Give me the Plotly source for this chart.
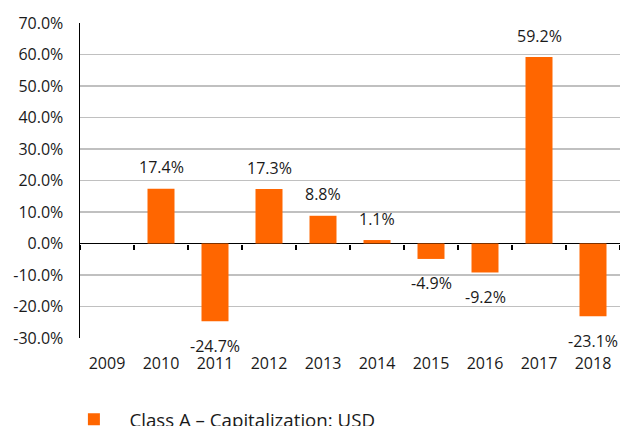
import plotly.graph_objects as go

years = ["2009", "2010", "2011", "2012", "2013", "2014", "2015", "2016", "2017", "2018"]
returns = [None, 17.4, -24.7, 17.3, 8.8, 1.1, -4.9, -9.2, 59.2, -23.1]
series_name = "Class A \u2013 Capitalization: USD"
y_ticks = [70, 60, 50, 40, 30, 20, 10, 0, -10, -20, -30]
y_tick_text = [f"{v:.1f}%" for v in y_ticks]

ORANGE = "#FF6600"
FONT = "Open Sans"
TXT = "#1a1a1a"

fig = go.Figure()
fig.add_trace(go.Bar(
    x=years, y=returns, name=series_name,
    marker=dict(color=ORANGE, line=dict(width=0)),
    hoverinfo="skip",
))
# invisible trace to drive the bottom label axis
fig.add_trace(go.Scatter(
    x=years, y=[0] * len(years), xaxis="x2", mode="markers",
    marker=dict(opacity=0), showlegend=False, hoverinfo="skip",
))

annotations = []
for i, v in enumerate(returns):
    if v is None:
        continue
    annotations.append(dict(
        x=i, y=v, xref="x", yref="y", text=f"{v:.1f}%",
        showarrow=False, yanchor="middle",
        yshift=21.5 if v >= 0 else -24.5,
        font=dict(family=FONT, size=16, color=TXT),
    ))

fig.update_layout(
    width=620, height=426,
    margin=dict(l=80, r=0, t=23, b=88, autoexpand=False),
    paper_bgcolor="white", plot_bgcolor="white",
    bargap=0.5,
    font=dict(family=FONT, size=16, color=TXT),
    showlegend=True,
    legend=dict(
        orientation="h", x=-0.04, xanchor="left", y=-0.259, yanchor="middle",
        font=dict(family=FONT, size=18.7, color=TXT),
        itemwidth=61, bgcolor="rgba(0,0,0,0)",
    ),
    annotations=annotations,
    xaxis=dict(
        type="category", categoryorder="array", categoryarray=years,
        range=[-0.5, 9.5], anchor="free", position=0.3,
        showline=False, showgrid=False, zeroline=False,
        ticks="outside", ticklen=5, tickwidth=1.5, tickcolor="black",
        tickson="boundaries", showticklabels=False,
    ),
    xaxis2=dict(
        type="category", categoryorder="array", categoryarray=years,
        range=[-0.5, 9.5], overlaying="x", anchor="y", side="bottom",
        showline=False, showgrid=False, zeroline=False,
        ticks="outside", ticklen=11, tickcolor="rgba(0,0,0,0)",
        showticklabels=True, tickfont=dict(family=FONT, size=16, color=TXT),
    ),
    yaxis=dict(
        range=[-30, 70], tickvals=y_ticks, ticktext=y_tick_text,
        showgrid=True, gridcolor="#C0C0C0", gridwidth=1.5,
        zeroline=True, zerolinecolor="black", zerolinewidth=1.5,
        showline=True, linecolor="black", linewidth=1.5,
        ticks="", ticklabelstandoff=12,
        tickfont=dict(family=FONT, size=16, color=TXT),
    ),
)

fig.write_html(
    "out.html",
    config={"displayModeBar": False, "staticPlot": True},
    post_script="document.body.style.margin='0';document.body.style.overflow='hidden';",
)
